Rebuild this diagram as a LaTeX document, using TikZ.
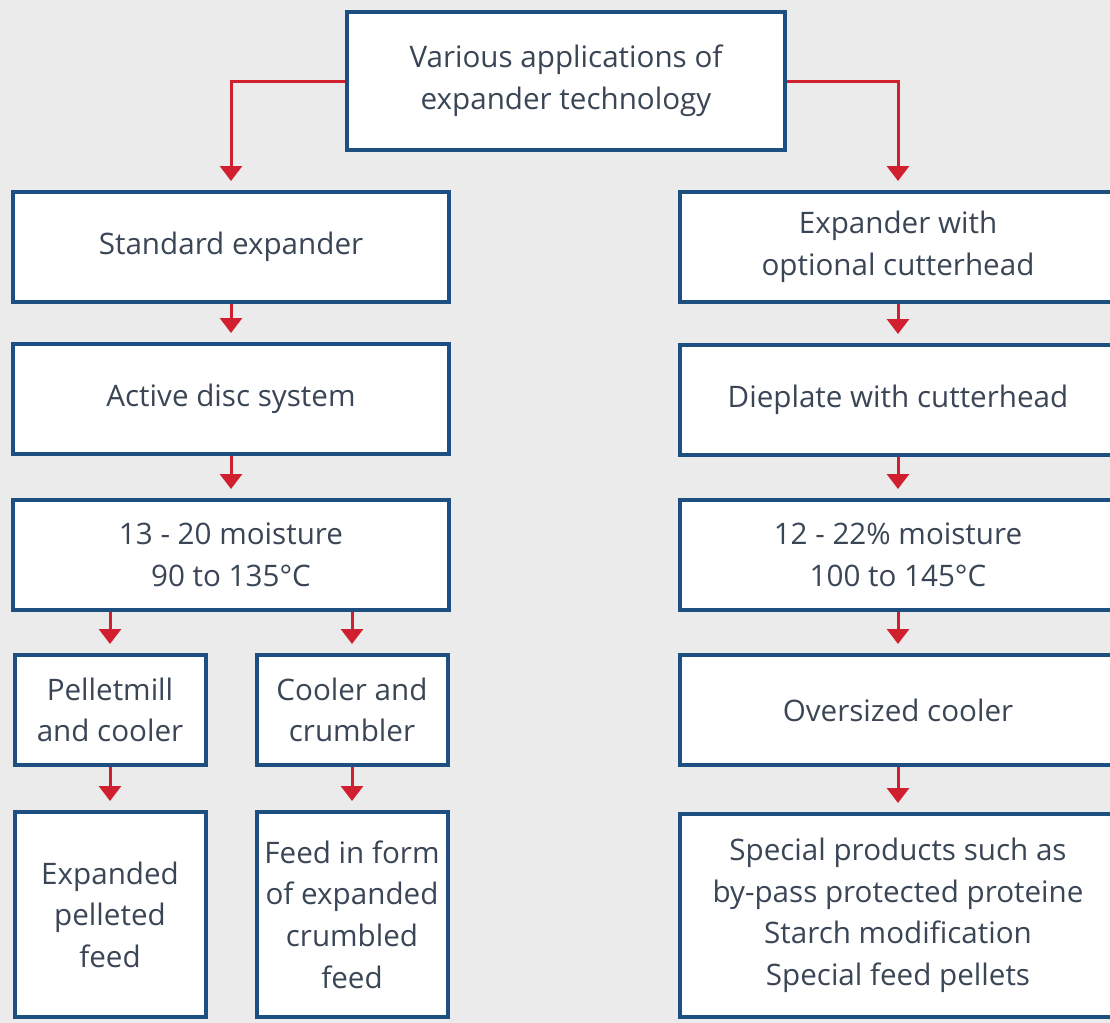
\documentclass[tikz,border=0pt]{standalone}
\usepackage{fontspec}
\setmainfont{Open Sans}
\usetikzlibrary{arrows.meta,positioning}
\definecolor{boxline}{HTML}{1D4F80}
\definecolor{boxtext}{HTML}{3A4656}
\definecolor{arrowred}{HTML}{D0202F}
\definecolor{paper}{HTML}{EBEBEB}

\begin{document}
\begin{tikzpicture}[x=0.5pt,y=-0.5pt,
  box/.style={draw=boxline,line width=2pt,fill=white,text=boxtext,align=center,
    inner sep=0pt,font=\fontsize{14.8}{20.8}\selectfont},
  wide/.style={box,minimum width=218pt,minimum height=55pt},
  narrow/.style={box,minimum width=95.5pt,minimum height=55pt},
  link/.style={draw=arrowred,line width=1.5pt,-{Triangle[width=11pt,length=7.5pt]},
    shorten >=4.5pt}]
\fill[paper] (0,0) rectangle (1110,1023);
\useasboundingbox (0,0) rectangle (1110,1023);
% top
\node (apps) at (566,81) [box,minimum width=219pt,minimum height=69pt]
  {Various applications of\\expander technology};
% left branch
\node (stdexp) at (231,247) [wide] {Standard expander};
\node (disc) at (231,399) [wide] {Active disc system};
\node (moistL) at (231,555) [wide] {13 - 20 moisture\\90 to 135°C};
\node (pellet) at (110,710) [narrow] {Pelletmill\\and cooler};
\node (crumb) at (352,710) [narrow] {Cooler and\\crumbler};
\node (pelfeed) at (110,914.5) [narrow,minimum height=102.5pt]
  {Expanded\\pelleted\\feed};
\node (crumfeed) at (352,914.5) [narrow,minimum height=102.5pt]
  {Feed in form\\of expanded\\crumbled\\feed};
% right branch
\node (cutter) at (898,247) [wide] {Expander with\\optional cutterhead};
\node (die) at (898,400) [wide] {Dieplate with cutterhead};
\node (moistR) at (898,555) [wide] {12 - 22\% moisture\\100 to 145°C};
\node (oversize) at (898,710) [wide] {Oversized cooler};
\node (special) at (898,915.5) [wide,minimum height=101.5pt]
  {Special products such as\\by-pass protected proteine\\Starch modification\\Special feed pellets};
% connectors
\draw [link] (apps.west) -| (stdexp.north);
\draw [link] (apps.east) -| (cutter.north);
\draw [link] (stdexp) -- (disc);
\draw [link] (disc) -- (moistL);
\draw [link] (moistL.south -| pellet.north) -- (pellet.north);
\draw [link] (moistL.south -| crumb.north) -- (crumb.north);
\draw [link] (pellet) -- (pelfeed);
\draw [link] (crumb) -- (crumfeed);
\draw [link] (cutter) -- (die);
\draw [link] (die) -- (moistR);
\draw [link] (moistR) -- (oversize);
\draw [link] (oversize) -- (special);
\end{tikzpicture}
\end{document}
